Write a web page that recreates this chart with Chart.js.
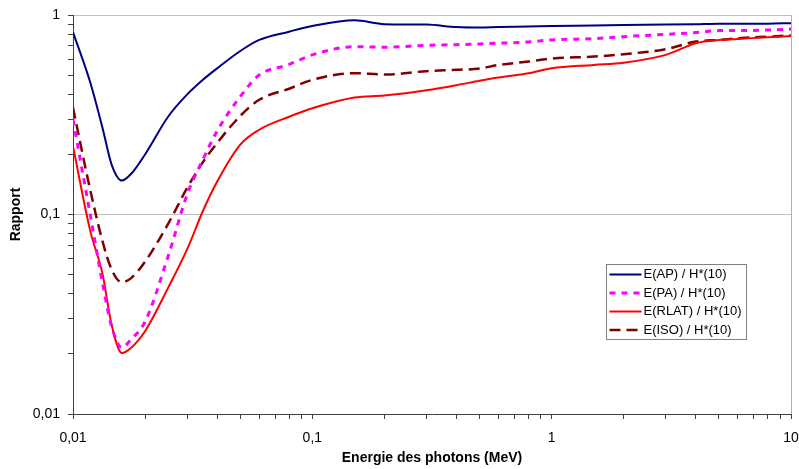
<!DOCTYPE html>
<html>
<head>
<meta charset="utf-8">
<script src="https://cdn.jsdelivr.net/npm/chart.js@4.4.1/dist/chart.umd.min.js"></script>
<style>
  body { margin: 0; background: #fff; }
  #wrap { width: 799px; height: 469px; }
</style>
</head>
<body>
<div id="wrap"><canvas id="ratioChart" width="799" height="469"></canvas></div>
<script>
// photon energies (MeV), shared by all series
const energies = [0.01, 0.0118, 0.0133, 0.0145, 0.016, 0.0175, 0.02, 0.025, 0.03, 0.035,
    0.04, 0.05, 0.06, 0.08, 0.1, 0.15, 0.2, 0.3, 0.4, 0.5,
    0.6, 0.8, 1, 1.5, 2, 3, 4, 5, 6, 8, 10];

// conversion coefficient ratios
const apRatio = [0.82, 0.46, 0.27, 0.178, 0.148, 0.16, 0.20, 0.31, 0.40, 0.475,
    0.54, 0.66, 0.75, 0.825, 0.88, 0.94, 0.90, 0.895, 0.87, 0.865,
    0.87, 0.875, 0.88, 0.885, 0.89, 0.895, 0.90, 0.905, 0.905, 0.905, 0.91];
const paRatio = [0.30, 0.10, 0.045, 0.0275, 0.0215, 0.0237, 0.029, 0.062, 0.126, 0.19,
    0.262, 0.39, 0.50, 0.565, 0.631, 0.694, 0.69, 0.705, 0.71, 0.716,
    0.722, 0.733, 0.75, 0.761, 0.779, 0.80, 0.816, 0.835, 0.835, 0.841, 0.85];
const rlatRatio = [0.22, 0.083, 0.05, 0.028, 0.0202, 0.0215, 0.026, 0.043, 0.067, 0.105,
    0.146, 0.224, 0.266, 0.309, 0.341, 0.386, 0.395, 0.42, 0.445, 0.468,
    0.486, 0.511, 0.541, 0.562, 0.577, 0.631, 0.722, 0.75, 0.759, 0.774, 0.785];
const isoRatio = [0.343, 0.133, 0.073, 0.053, 0.0457, 0.048, 0.058, 0.09, 0.136, 0.184,
    0.228, 0.312, 0.376, 0.427, 0.473, 0.511, 0.503, 0.523, 0.531, 0.539,
    0.562, 0.584, 0.605, 0.619, 0.636, 0.674, 0.736, 0.75, 0.764, 0.779, 0.79];

const seriesNames = ['E(AP) / H*(10)', 'E(PA) / H*(10)', 'E(RLAT) / H*(10)', 'E(ISO) / H*(10)'];

// axis decades and their labels
const xMajor = [0.01, 0.1, 1, 10];
const xTickLabels = ['0,01', '0,1', '1', '10'];
const yMajor = [0.01, 0.1, 1];
const yTickLabels = ['0,01', '0,1', '1'];

const FONT = "'Liberation Sans', Arial, sans-serif";

function toPoints(vals) {
    return energies.map((e, i) => ({ x: e, y: vals[i] }));
}

// log ticks: 1..9 in every decade, plus the last major
function logTicks(majors) {
    const out = [];
    for (let d = 0; d < majors.length - 1; d++) {
        for (let m = 1; m <= 9; m++) out.push(+(majors[d] * m).toPrecision(6));
    }
    out.push(majors[majors.length - 1]);
    return out;
}

function majorIndex(majors, v) {
    return majors.findIndex(m => Math.abs(m - v) / m < 1e-6);
}

// legend drawn inside the plot area, like the Excel one
const insideLegend = {
    id: 'insideLegend',
    afterDraw(chart) {
        const ctx = chart.ctx;
        const area = chart.chartArea;
        const left = area.right - 184.5;
        const top = area.top + 249.5;
        const w = 140, h = 75;
        ctx.save();
        ctx.fillStyle = '#fff';
        ctx.fillRect(left, top, w, h);
        ctx.strokeStyle = '#808080';
        ctx.lineWidth = 1;
        ctx.strokeRect(left, top, w, h);
        ctx.font = '13px ' + FONT;
        ctx.textBaseline = 'middle';
        chart.data.datasets.forEach((ds, i) => {
            const y = top + 10 + i * 18.5;
            ctx.beginPath();
            ctx.strokeStyle = ds.borderColor;
            ctx.lineWidth = ds.borderWidth;
            ctx.setLineDash(ds.borderDash || []);
            ctx.moveTo(left + 3, y);
            ctx.lineTo(left + 35, y);
            ctx.stroke();
            ctx.setLineDash([]);
            ctx.fillStyle = '#000';
            ctx.fillText(ds.label, left + 37, y);
        });
        ctx.restore();
    }
};

function generateChart() {
    const ctx = document.getElementById('ratioChart').getContext('2d');

    const chartData = {
        datasets: [{
            label: seriesNames[0],
            data: toPoints(apRatio),
            borderColor: '#000080',
            borderWidth: 2
        }, {
            label: seriesNames[1],
            data: toPoints(paRatio),
            borderColor: '#ff00ff',
            borderWidth: 3,
            borderDash: [6, 6]
        }, {
            label: seriesNames[2],
            data: toPoints(rlatRatio),
            borderColor: '#ff0000',
            borderWidth: 2
        }, {
            label: seriesNames[3],
            data: toPoints(isoRatio),
            borderColor: '#800000',
            borderWidth: 2.5,
            borderDash: [11, 6]
        }]
    };

    const chartOptions = {
        responsive: false,
        animation: false,
        devicePixelRatio: 1,
        layout: { padding: { top: 15, right: 8, left: 0, bottom: 0 } },
        elements: {
            point: { radius: 0 },
            line: { cubicInterpolationMode: 'monotone', fill: false }
        },
        plugins: {
            legend: { display: false },
            tooltip: { enabled: false }
        },
        scales: {
            x: {
                type: 'logarithmic',
                min: 0.01,
                max: 10,
                afterBuildTicks: s => { s.ticks = logTicks(xMajor).map(v => ({ value: v })); },
                afterFit: s => { s.height = 55; s.paddingLeft = 0; s.paddingRight = 0; },
                border: { color: '#404040', width: 1 },
                grid: {
                    drawTicks: true,
                    tickLength: 5,
                    color: c => (c.tick && c.tick.value === 10 ? '#b0b0b0' : 'rgba(0,0,0,0)'),
                    tickColor: '#404040'
                },
                ticks: {
                    autoSkip: false,
                    maxRotation: 0,
                    padding: 11,
                    color: '#000',
                    font: { family: FONT, size: 14 },
                    callback: v => {
                        const k = majorIndex(xMajor, v);
                        return k >= 0 ? xTickLabels[k] : '';
                    }
                },
                title: {
                    display: true,
                    text: 'Energie des photons (MeV)',
                    color: '#000',
                    font: { family: FONT, size: 14, weight: 'bold' },
                    padding: { top: 0, bottom: 2 }
                }
            },
            y: {
                type: 'logarithmic',
                min: 0.01,
                max: 1,
                afterBuildTicks: s => { s.ticks = logTicks(yMajor).map(v => ({ value: v })); },
                afterFit: s => { s.width = 73; s.paddingTop = 0; s.paddingBottom = 0; },
                border: { color: '#404040', width: 1 },
                grid: {
                    drawTicks: true,
                    tickLength: 5,
                    color: c => {
                        const v = c.tick && c.tick.value;
                        return (v === 0.1 || v === 1) ? '#c0c0c0' : 'rgba(0,0,0,0)';
                    },
                    tickColor: '#404040'
                },
                ticks: {
                    autoSkip: false,
                    padding: 8,
                    color: '#000',
                    font: { family: FONT, size: 14 },
                    callback: v => {
                        const k = majorIndex(yMajor, v);
                        return k >= 0 ? yTickLabels[k] : '';
                    }
                },
                title: {
                    display: true,
                    text: 'Rapport',
                    color: '#000',
                    font: { family: FONT, size: 14, weight: 'bold' },
                    padding: { top: 8, bottom: 0 }
                }
            }
        }
    };

    new Chart(ctx, {
        type: 'line',
        data: chartData,
        options: chartOptions,
        plugins: [insideLegend]
    });
}

generateChart();
</script>
</body>
</html>
